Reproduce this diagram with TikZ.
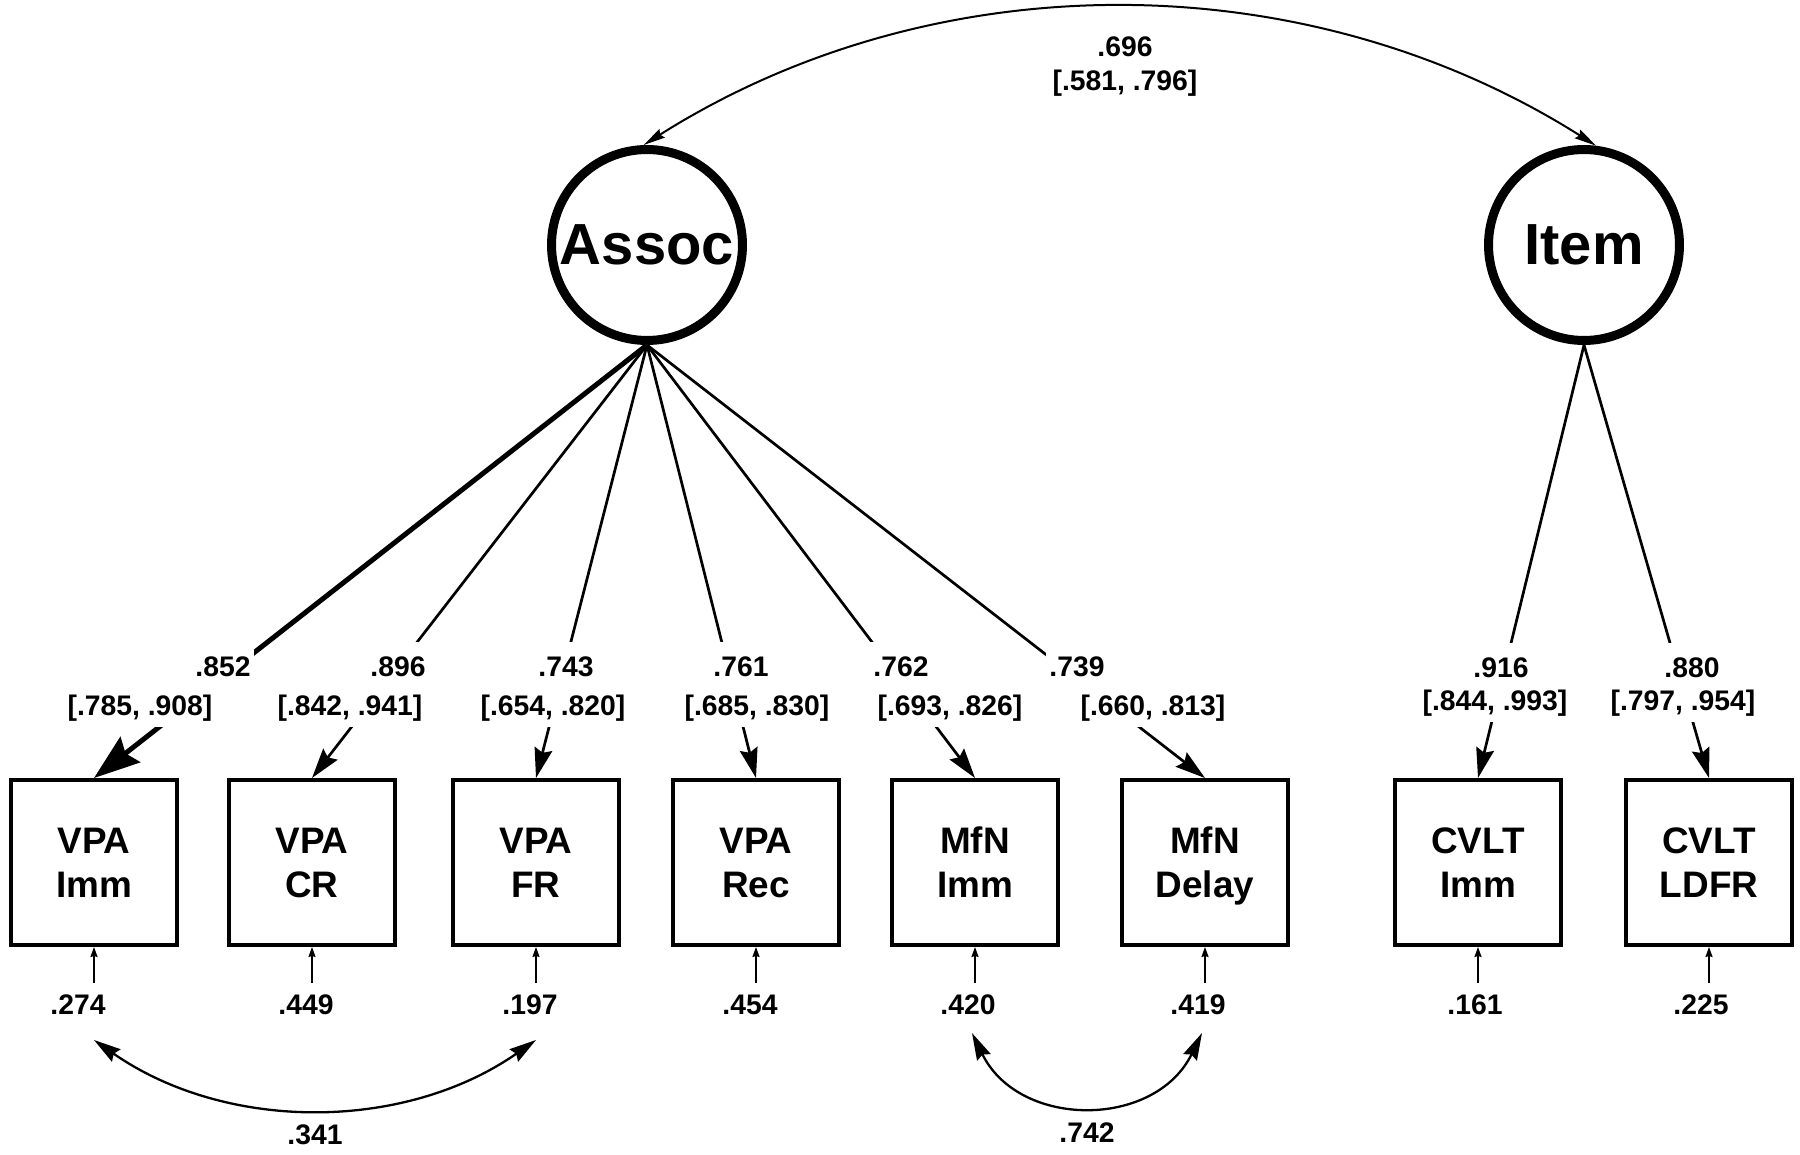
\documentclass[tikz,border=0pt]{standalone}
\usepackage{fontspec}
\setmainfont{Liberation Sans}
\usetikzlibrary{arrows.meta}
\begin{document}
\begin{tikzpicture}[x=0.02cm, y=-0.02cm,
  latent/.style={circle, draw, line width=0.18cm, minimum size=3.82cm, inner sep=0pt,
    font=\fontsize{33}{38}\selectfont\bfseries},
  obs/.style={rectangle, draw, line width=0.08cm, minimum width=3.32cm, minimum height=3.3cm,
    inner sep=0pt, align=center, text depth=0pt, font=\fontsize{21}{25}\selectfont\bfseries},
  num/.style={font=\fontsize{16.1}{19}\selectfont\bfseries, inner sep=0pt, anchor=base},
  val/.style={num, fill=white, inner xsep=0.06cm, inner ysep=0.3cm},
  ci/.style={num, fill=white, inner xsep=0.06cm, inner ysep=0.13cm},
  load/.style={line width=0.054cm, -{Stealth[length=0.6cm, width=0.36cm, inset=0.08cm]}},
  loadthick/.style={line width=0.1cm, -{Stealth[length=0.92cm, width=0.64cm, inset=0.12cm]}},
  errarrow/.style={line width=0.036cm, -{Stealth[length=0.2cm, width=0.14cm, inset=0.02cm]}},
  covarrow/.style={line width=0.046cm,
    {Stealth[length=0.54cm, width=0.3cm, inset=0.06cm]}-{Stealth[length=0.54cm, width=0.3cm, inset=0.06cm]}},
  topcov/.style={line width=0.04cm,
    {Stealth[length=0.44cm, width=0.2cm, inset=0.05cm]}-{Stealth[length=0.44cm, width=0.2cm, inset=0.05cm]}}
]
\useasboundingbox (0,0) rectangle (1800,1155);

% latent variables
\node[latent] (assoc) at (647,245) {Assoc};
\node[latent] (item)  at (1584,245) {Item};

% observed variables
\node[obs] (b1) at (94,862.5)   {VPA\\Imm};
\node[obs] (b2) at (312,862.5)  {VPA\\CR};
\node[obs] (b3) at (536,862.5)  {VPA\\FR};
\node[obs] (b4) at (756,862.5)  {VPA\\Rec};
\node[obs] (b5) at (975,862.5)  {MfN\\Imm};
\node[obs] (b6) at (1205,862.5) {MfN\\Delay};
\node[obs] (b7) at (1478,862.5) {CVLT\\Imm};
\node[obs] (b8) at (1709,862.5) {CVLT\\LDFR};

% factor covariance
\draw[topcov] (assoc.92) .. controls +(291,-184) and +(-291,-184) .. (item.83);
\node[num] (fc) at (1125,57) {.696};
\node[num] (fcci) at (1125,91) {[.581, .796]};

% loadings
\draw[loadthick] (assoc.south) -- (b1.north);
\draw[load] (assoc.south) -- (b2.north);
\draw[load] (assoc.south) -- (b3.north);
\draw[load] (assoc.south) -- (b4.north);
\draw[load] (assoc.south) -- (b5.north);
\draw[load] (assoc.south) -- (b6.north);
\draw[load] (item.south) -- (b7.north);
\draw[load] (item.south) -- (b8.north);

% loading labels
\node[val] (l1) at (223,677) {.852};
\node[ci]  (l1c) at (140,715) {[.785, .908]};
\node[val] (l2) at (398,677) {.896};
\node[ci]  (l2c) at (350,715) {[.842, .941]};
\node[val] (l3) at (566,677) {.743};
\node[ci]  (l3c) at (553,715) {[.654, .820]};
\node[val] (l4) at (741,677) {.761};
\node[ci]  (l4c) at (757,715) {[.685, .830]};
\node[val] (l5) at (901,677) {.762};
\node[ci]  (l5c) at (950,715) {[.693, .826]};
\node[val] (l6) at (1077,677) {.739};
\node[ci]  (l6c) at (1153,715) {[.660, .813]};
\node[val] (l7) at (1501,678) {.916};
\node[ci]  (l7c) at (1495,710) {[.844, .993]};
\node[val] (l8) at (1692,678) {.880};
\node[ci]  (l8c) at (1683,710) {[.797, .954]};

% error terms
\coordinate (u1) at (94,983);
\coordinate (u2) at (312,983);
\coordinate (u3) at (536,983);
\coordinate (u4) at (756,983);
\coordinate (u5) at (975,983);
\coordinate (u6) at (1205,983);
\coordinate (u7) at (1478,983);
\coordinate (u8) at (1709,983);
\foreach \i in {1,...,8} { \draw[errarrow] (u\i) -- (b\i.south); }
\node[num] (e1) at (78,1014)   {.274};
\node[num] (e2) at (306,1014)  {.449};
\node[num] (e3) at (530,1014)  {.197};
\node[num] (e4) at (750,1014)  {.454};
\node[num] (e5) at (968,1014)  {.420};
\node[num] (e6) at (1198,1014) {.419};
\node[num] (e7) at (1475,1014) {.161};
\node[num] (e8) at (1701,1014) {.225};

% residual covariances
\coordinate (ca1) at (94,1040);
\coordinate (ca2) at (536,1040);
\draw[covarrow] (ca1) .. controls +(132,92) and +(-132,92) .. (ca2);
\node[num] (r1) at (315,1144) {.341};
\coordinate (cb1) at (972,1033);
\coordinate (cb2) at (1202,1033);
\draw[covarrow] (cb1) .. controls +(47,96) and +(-47,96) .. (cb2);
\node[num] (r2) at (1087,1142) {.742};
\end{tikzpicture}
\end{document}
